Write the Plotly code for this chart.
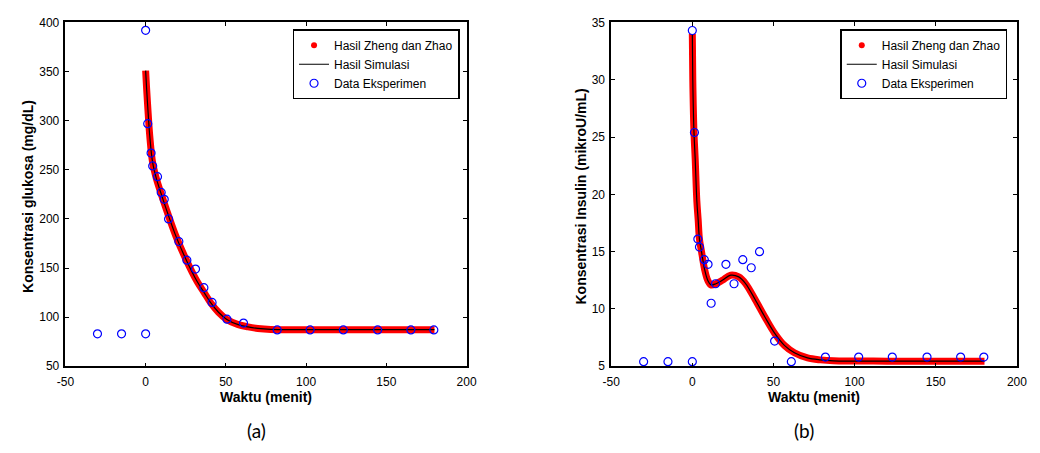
import plotly.graph_objects as go

# ---------------- data ----------------
# (a) glucose
model_t_glu = [0, 0.6, 1.6, 2.6, 4.3, 6.7, 9.8, 13.9, 19, 25.1, 32.2, 36.5, 40.4,
               45.4, 50.6, 57.7, 63.8, 69.9, 78, 100, 140, 180]
model_glu = [351, 333, 307, 284, 258, 241, 225, 205, 182, 159, 136, 125, 115,
             105, 97.7, 92.4, 90.1, 88.5, 87.5, 87.3, 87.3, 87.3]

exp_t = [-30, -15, 0, 0, 1.3, 3.4, 4.4, 7.4, 9.7, 11.6, 14.3, 20.7, 25.7, 31.1,
         36.3, 41.4, 50.7, 61, 82, 102.5, 123.2, 144.6, 165.3, 179.6]
exp_glu = [83, 83, 83, 392, 297, 267, 254, 243, 227, 220, 200, 177, 158, 149,
           130, 115, 98, 94, 87, 87, 87, 87, 87, 87]

# (b) insulin
model_t_ins = [0, 0.3, 1.0, 1.8, 2.8, 3.6, 4.4, 5.8, 7.5, 9.5, 11.5, 14.5, 18.5,
               23.6, 28.6, 32.7, 38.7, 44.8, 50.8, 56.9, 62.9, 71, 79, 87, 120,
               150, 180]
model_ins = [34, 30, 25.5, 23.0, 19.4, 17.8, 16.1, 14.9, 13.5, 12.5, 12.1, 12.2,
             12.5, 12.95, 12.8, 12.24, 10.83, 9.28, 7.87, 6.8, 6.18, 5.73, 5.56,
             5.48, 5.45, 5.45, 5.45]
exp_ins = [5.4, 5.4, 5.4, 34.3, 25.4, 16.1, 15.4, 14.3, 13.9, 10.5, 12.2, 13.9,
           12.2, 14.3, 13.6, 15.0, 7.2, 5.4, 5.8, 5.8, 5.8, 5.8, 5.8, 5.8]

x_ticks = [-50, 0, 50, 100, 150, 200]
x_tick_text = ["-50", "0", "50", "100", "150", "200"]
names = ["Hasil Zheng dan Zhao", "Hasil Simulasi", "Data Eksperimen"]

# ---------------- figure ----------------
# the page body adds an 8px margin, so the figure is drawn 8px smaller and
# every reference pixel position is shifted by OFF
OFF = 8
W, H = 1040 - OFF, 453 - OFF
FONT = "Liberation Sans"


def fx(px):
    return (px - OFF) / W


def fy(py):
    return 1 - (py - OFF) / H


fig = go.Figure()


def add_panel(t_model, y_model, y_exp, xa, ya, leg):
    # legend-only entry for the red dotted series
    fig.add_trace(go.Scatter(x=[None], y=[None], mode="markers", name=names[0],
                             marker=dict(color="#ff0000", size=6),
                             xaxis=xa, yaxis=ya, legend=leg))
    fig.add_trace(go.Scatter(x=t_model, y=y_model, mode="lines", name=names[0],
                             line=dict(color="#ff0000", width=7, shape="spline"),
                             showlegend=False, xaxis=xa, yaxis=ya, legend=leg))
    fig.add_trace(go.Scatter(x=t_model, y=y_model, mode="lines", name=names[1],
                             line=dict(color="#000000", width=1.2, shape="spline"),
                             xaxis=xa, yaxis=ya, legend=leg))
    fig.add_trace(go.Scatter(x=exp_t, y=y_exp, mode="markers", name=names[2],
                             marker=dict(symbol="circle-open", size=8, color="#0000ff",
                                         line=dict(width=1.2, color="#0000ff")),
                             xaxis=xa, yaxis=ya, legend=leg))


add_panel(model_t_glu, model_glu, exp_glu, "x", "y", "legend")
add_panel(model_t_ins, model_ins, exp_ins, "x2", "y2", "legend2")

ydom = [fy(370.7), fy(15.7)]
common_ax = dict(showline=True, linecolor="#000000", linewidth=1.5, mirror="ticks",
                 ticks="inside", ticklen=4, tickcolor="#000000", showgrid=False,
                 zeroline=False, tickfont=dict(family=FONT, size=12, color="#000000"))
x_ax = dict(ticklabelstandoff=4, **common_ax)
y_ax = dict(ticklabelstandoff=2, **common_ax)

leg_common = dict(y=fy(22.7), xanchor="left", yanchor="top",
                  bordercolor="#000000", borderwidth=1.5, bgcolor="white",
                  font=dict(family=FONT, size=12, color="#000000"), tracegroupgap=0,
                  itemwidth=30)

fig.update_layout(
    width=W, height=H, autosize=False,
    margin=dict(l=0, r=0, t=0, b=0),
    paper_bgcolor="white", plot_bgcolor="white",
    font=dict(family=FONT, color="#000000"),
    xaxis=dict(domain=[fx(57.3), fx(466)], range=[-50, 200], tickvals=x_ticks,
               ticktext=x_tick_text, anchor="y", **x_ax),
    yaxis=dict(domain=ydom, range=[50, 400], dtick=50, anchor="x", **y_ax),
    xaxis2=dict(domain=[fx(613.3), fx(1026.7)], range=[-50, 200], tickvals=x_ticks,
                ticktext=x_tick_text, anchor="y2", **x_ax),
    yaxis2=dict(domain=ydom, range=[5, 35], dtick=5, anchor="x2", **y_ax),
    legend=dict(x=fx(288.7), **leg_common),
    legend2=dict(x=fx(846.7), **leg_common),
    showlegend=True,
)

title_font = dict(family=FONT, size=14, color="#000000")
lab_font = dict(family="Lato, Open Sans, sans-serif", size=19, color="#000000")


def paper_ann(text, px, py, font, angle=0):
    return dict(text=text, x=fx(px), y=fy(py), xref="paper", yref="paper",
                xanchor="center", yanchor="middle", showarrow=False,
                textangle=angle, font=font)


ann = [
    paper_ann("<b>Waktu (menit)</b>", 261.6, 402, title_font),
    paper_ann("<b>Waktu (menit)</b>", 820, 402, title_font),
    paper_ann("<b>Konsentrasi glukosa (mg/dL)</b>", 19, 195, title_font, -90),
    paper_ann("<b>Konsentrasi Insulin (mikroU/mL)</b>", 583, 195, title_font, -90),
    paper_ann("(a)", 252, 437, lab_font),
    paper_ann("(b)", 810, 437, lab_font),
]
fig.update_layout(annotations=ann)

fig.write_html("out.html")
